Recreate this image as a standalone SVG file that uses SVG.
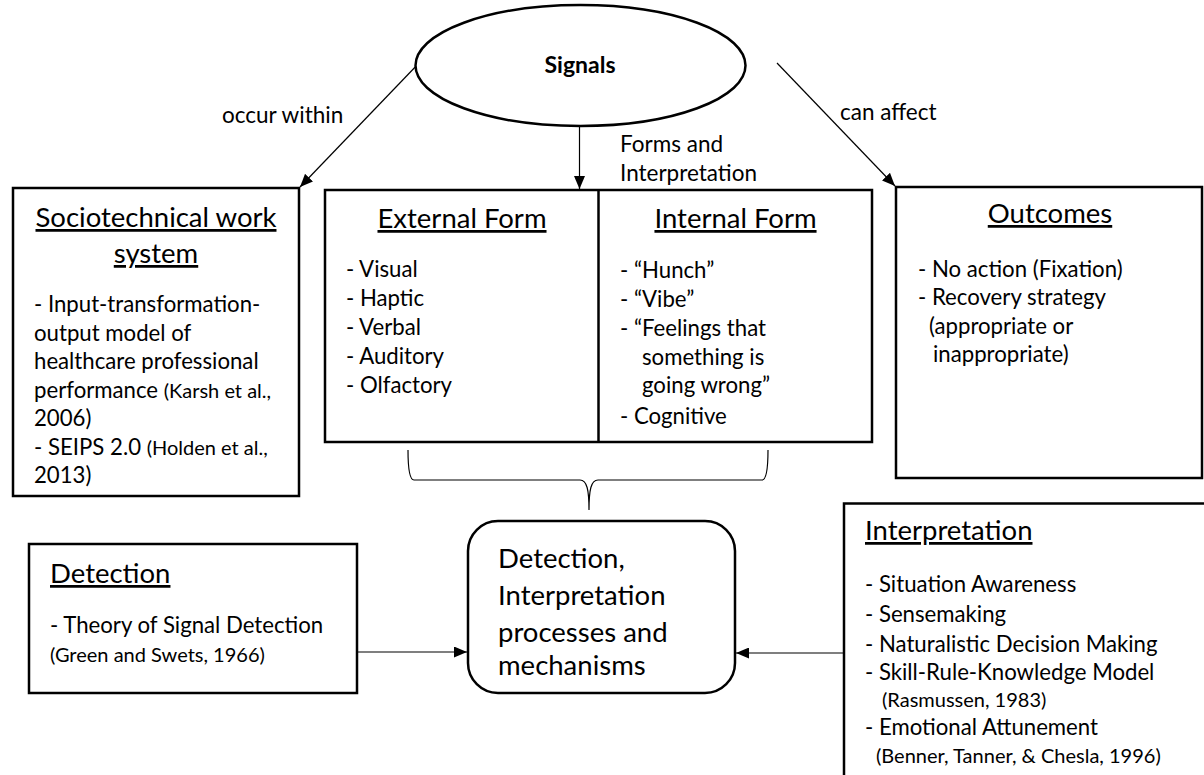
<svg xmlns="http://www.w3.org/2000/svg" width="1204" height="775" viewBox="0 0 1204 775">
  <style>
    text { font-family: Lato, "Liberation Sans", sans-serif; fill: #000; }
    .body { font-size: 22.2px; }
    .small { font-size: 20px; }
    .title { font-size: 27.5px; text-decoration: underline; }
    .big { font-size: 27.5px; }
    .lbl { font-size: 22.5px; }
    .box { fill: #fff; stroke: #000; stroke-width: 2.5; }
    .conn { fill: none; stroke: #000; stroke-width: 1.2; }
  </style>
  <defs>
    <marker id="arrow" viewBox="0 0 13 11" refX="13" refY="5.5" markerWidth="13" markerHeight="11" markerUnits="userSpaceOnUse" orient="auto">
      <path d="M0,0 L13,5.5 L0,11 Z" fill="#000"/>
    </marker>
  </defs>

  <rect width="1204" height="775" fill="#fff"/>

  <!-- connectors -->
  <g id="connectors">
    <line class="conn" x1="420" y1="62" x2="300" y2="187" marker-end="url(#arrow)"/>
    <line class="conn" x1="579.5" y1="126" x2="579.5" y2="189" marker-end="url(#arrow)"/>
    <line class="conn" x1="777" y1="63" x2="895" y2="186" marker-end="url(#arrow)"/>
    <line class="conn" x1="357" y1="652" x2="467" y2="652" marker-end="url(#arrow)"/>
    <line class="conn" x1="843" y1="653" x2="736" y2="653" marker-end="url(#arrow)"/>
    <!-- brace grouping the two form boxes -->
    <path class="conn" stroke="#444" d="M408,450 C408,462 409,480 414,480 L580,480 C587,480 589,490 589,510 C589,490 591,480 598,480 L762,480 C767,480 768,462 768,450"/>
    <text class="lbl" x="222" y="123">occur within</text>
    <text class="lbl" x="620" y="152">Forms and</text>
    <text class="lbl" x="620" y="181">Interpretation</text>
    <text class="lbl" x="840" y="120">can affect</text>
  </g>

  <g id="signals">
    <ellipse cx="580.5" cy="65.5" rx="165" ry="60.5" fill="#fff" stroke="#000" stroke-width="2.5"/>
    <text x="580" y="73" text-anchor="middle" font-size="23" font-weight="bold">Signals</text>
  </g>

  <g id="sociotechnical">
    <rect class="box" x="13" y="188" width="286" height="308"/>
    <text class="title" x="156" y="227" text-anchor="middle">Sociotechnical work</text>
    <text class="title" x="156" y="263" text-anchor="middle">system</text>
    <text class="body" x="34" y="312">- Input-transformation-</text>
    <text class="body" x="34" y="340.5">output model of</text>
    <text class="body" x="34" y="369">healthcare professional</text>
    <text class="body" x="34" y="397.5">performance <tspan class="small">(Karsh et al.,</tspan></text>
    <text class="body" x="34" y="426">2006)</text>
    <text class="body" x="34" y="454.5">- SEIPS 2.0 <tspan class="small">(Holden et al.,</tspan></text>
    <text class="body" x="34" y="483">2013)</text>
  </g>

  <g id="forms">
    <rect class="box" x="325" y="190" width="547" height="252"/>
    <line x1="598.5" y1="190" x2="598.5" y2="442" stroke="#000" stroke-width="2.5"/>
    <g id="external-form">
      <text class="title" x="462" y="228" text-anchor="middle">External Form</text>
      <text class="body" x="346" y="277">- Visual</text>
      <text class="body" x="346" y="306">- Haptic</text>
      <text class="body" x="346" y="335">- Verbal</text>
      <text class="body" x="346" y="364">- Auditory</text>
      <text class="body" x="346" y="393">- Olfactory</text>
    </g>
    <g id="internal-form">
      <text class="title" x="735.5" y="228" text-anchor="middle">Internal Form</text>
      <text class="body" x="620" y="278">- “Hunch”</text>
      <text class="body" x="620" y="307">- “Vibe”</text>
      <text class="body" x="620" y="336">- “Feelings that</text>
      <text class="body" x="642" y="364.5">something is</text>
      <text class="body" x="642" y="393">going wrong”</text>
      <text class="body" x="620" y="424">- Cognitive</text>
    </g>
  </g>

  <g id="outcomes">
    <rect class="box" x="896" y="187" width="306" height="291"/>
    <text class="title" x="1050" y="223" text-anchor="middle">Outcomes</text>
    <text class="body" x="918" y="277">- No action (Fixation)</text>
    <text class="body" x="918" y="305">- Recovery strategy</text>
    <text class="body" x="929" y="333.5">(appropriate or</text>
    <text class="body" x="933" y="362">inappropriate)</text>
  </g>

  <g id="processes">
    <rect class="box" x="468" y="521" width="267" height="172" rx="30" ry="30"/>
    <text class="big" x="498" y="568">Detection,</text>
    <text class="big" x="498" y="605">Interpretation</text>
    <text class="big" x="498" y="641.5">processes and</text>
    <text class="big" x="498" y="675">mechanisms</text>
  </g>

  <g id="detection">
    <rect class="box" x="29" y="544" width="328" height="149"/>
    <text class="title" x="50" y="583">Detection</text>
    <text class="body" x="50" y="633">- Theory of Signal Detection</text>
    <text class="small" x="50" y="662">(Green and Swets, 1966)</text>
  </g>

  <g id="interpretation">
    <rect class="box" x="844" y="503.5" width="380" height="290"/>
    <text class="title" x="865" y="540">Interpretation</text>
    <text class="body" x="865" y="592">- Situation Awareness</text>
    <text class="body" x="865" y="622">- Sensemaking</text>
    <text class="body" x="865" y="652">- Naturalistic Decision Making</text>
    <text class="body" x="865" y="680">- Skill-Rule-Knowledge Model</text>
    <text class="small" x="882" y="707">(Rasmussen, 1983)</text>
    <text class="body" x="865" y="735">- Emotional Attunement</text>
    <text class="small" x="876" y="763">(Benner, Tanner, &amp; Chesla, 1996)</text>
  </g>
</svg>
